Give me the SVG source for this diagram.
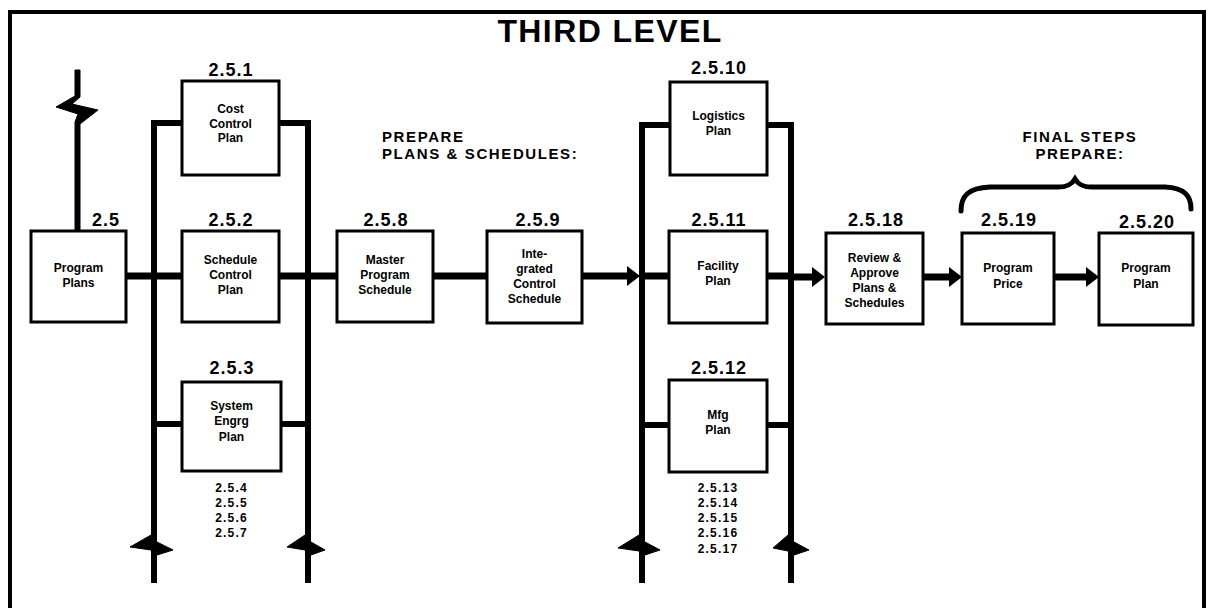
<svg xmlns="http://www.w3.org/2000/svg" width="1208" height="608" viewBox="0 0 1208 608">
<defs>
<style>
.frame{fill:none;stroke:#000;stroke-width:4}
.box{fill:#fff;stroke:#000;stroke-width:3}
.bus{fill:none;stroke:#000;stroke-width:6;stroke-linejoin:miter;stroke-miterlimit:12}
.h{fill:none;stroke:#000;stroke-width:7}
.bolt{fill:#000;stroke:#000;stroke-width:1;stroke-linejoin:miter}
.brace{fill:none;stroke:#000;stroke-width:5;stroke-linecap:round}
text{font-family:"Liberation Sans",Arial,Helvetica,sans-serif;font-weight:bold;fill:#000;text-anchor:middle}
.title{font-size:32px;letter-spacing:1.4px}
.id{font-size:18px;letter-spacing:1px}
.t{font-size:12px}
.sub{font-size:12px;letter-spacing:1.2px}
.head{font-size:15px;letter-spacing:1.6px}
</style>
<marker id="ah" markerUnits="userSpaceOnUse" markerWidth="14" markerHeight="22" viewBox="0 -11 14 22" refX="0" refY="0" orient="auto">
<path d="M0,-10 L13,0 L0,10 z" fill="#000"/>
</marker>
</defs>
<rect width="1208" height="608" fill="#fff"/>
<path class="frame" d="M10,608 V12 H1204 V608"/>
<text class="title" x="610" y="42">THIRD LEVEL</text>
<text class="head" x="382" y="142" style="text-anchor:start">PREPARE</text>
<text class="head" x="382" y="159" style="text-anchor:start">PLANS &amp; SCHEDULES:</text>
<text class="head" x="1080" y="142">FINAL STEPS</text>
<text class="head" x="1080" y="159">PREPARE:</text>
<g id="connectors">
<path class="bolt" d="M75,70 L80,70 L80,97 L72,104 L98,110 L80,124 L80,231 L75,231 L75,122 L78,114 L56,107 L75,96 z"/>
<path class="h" d="M126,276 H487"/>
<path class="h" d="M582,276 H627" marker-end="url(#ah)"/>
<path class="h" d="M642,276 H791"/>
<path class="h" d="M791,277 H812" marker-end="url(#ah)"/>
<path class="h" d="M923,277 H949" marker-end="url(#ah)"/>
<path class="h" d="M1054,277 H1086" marker-end="url(#ah)"/>
<path class="bus" d="M182,123 H154 V583"/>
<path class="bus" d="M279,123 H308 V583"/>
<path class="bus" d="M670,125 H642 V583"/>
<path class="bus" d="M767,125 H791 V583"/>
<path class="bolt" d="M151,535 L130,547 L151,550 z M157,542 L173,550 L157,555 z"/>
<path class="bolt" d="M305,535 L287,547 L305,550 z M311,542 L325,550 L311,555 z"/>
<path class="bolt" d="M639,535 L618,548 L639,551 z M645,542 L660,550 L645,555 z"/>
<path class="bolt" d="M788,535 L773,548 L788,551 z M794,542 L809,550 L794,555 z"/>
<path class="bus" d="M154,424 H182 M281,424 H308 M642,425 H669 M767,425 H791"/>
<path class="brace" d="M961,211 C961,196 968,188 990,187 L1058,187 C1068,187 1072,184 1075,179 C1078,184 1082,187 1092,187 L1165,187 C1185,188 1191,196 1191,209"/>
</g>
<g id="n2_5">
<rect class="box" x="31" y="231" width="95" height="91"/>
<text class="id" x="106" y="226">2.5</text>
<text class="t" x="78.5" y="271.5">Program</text>
<text class="t" x="78.5" y="287">Plans</text>
</g>
<g id="n2_5_1">
<rect class="box" x="182" y="81" width="97" height="94"/>
<text class="id" x="231" y="76">2.5.1</text>
<text class="t" x="230.5" y="113">Cost</text>
<text class="t" x="230.5" y="127.5">Control</text>
<text class="t" x="230.5" y="142">Plan</text>
</g>
<g id="n2_5_2">
<rect class="box" x="182" y="231" width="97" height="91"/>
<text class="id" x="231" y="226">2.5.2</text>
<text class="t" x="230.5" y="264">Schedule</text>
<text class="t" x="230.5" y="279">Control</text>
<text class="t" x="230.5" y="294">Plan</text>
</g>
<g id="n2_5_3">
<rect class="box" x="182" y="382" width="99" height="89"/>
<text class="id" x="232" y="374">2.5.3</text>
<text class="t" x="231.5" y="410">System</text>
<text class="t" x="231.5" y="425">Engrg</text>
<text class="t" x="231.5" y="441">Plan</text>
<text class="sub" x="231.5" y="492">2.5.4</text>
<text class="sub" x="231.5" y="507">2.5.5</text>
<text class="sub" x="231.5" y="522">2.5.6</text>
<text class="sub" x="231.5" y="537">2.5.7</text>
</g>
<g id="n2_5_8">
<rect class="box" x="337" y="231" width="96" height="91"/>
<text class="id" x="386" y="226">2.5.8</text>
<text class="t" x="385" y="264">Master</text>
<text class="t" x="385" y="279">Program</text>
<text class="t" x="385" y="294">Schedule</text>
</g>
<g id="n2_5_9">
<rect class="box" x="487" y="231" width="95" height="92"/>
<text class="id" x="538" y="226">2.5.9</text>
<text class="t" x="534.5" y="258">Inte-</text>
<text class="t" x="534.5" y="273">grated</text>
<text class="t" x="534.5" y="288">Control</text>
<text class="t" x="534.5" y="303">Schedule</text>
</g>
<g id="n2_5_10">
<rect class="box" x="670" y="82" width="97" height="93"/>
<text class="id" x="719" y="74">2.5.10</text>
<text class="t" x="718.5" y="120">Logistics</text>
<text class="t" x="718.5" y="135">Plan</text>
</g>
<g id="n2_5_11">
<rect class="box" x="669" y="231" width="98" height="92"/>
<text class="id" x="719" y="226">2.5.11</text>
<text class="t" x="718" y="270">Facility</text>
<text class="t" x="718" y="285">Plan</text>
</g>
<g id="n2_5_12">
<rect class="box" x="669" y="380" width="98" height="92"/>
<text class="id" x="719" y="374">2.5.12</text>
<text class="t" x="718" y="419">Mfg</text>
<text class="t" x="718" y="434">Plan</text>
<text class="sub" x="718" y="492">2.5.13</text>
<text class="sub" x="718" y="507">2.5.14</text>
<text class="sub" x="718" y="522">2.5.15</text>
<text class="sub" x="718" y="537">2.5.16</text>
<text class="sub" x="718" y="553">2.5.17</text>
</g>
<g id="n2_5_18">
<rect class="box" x="826" y="233" width="97" height="91"/>
<text class="id" x="876" y="226">2.5.18</text>
<text class="t" x="874.5" y="262">Review &amp;</text>
<text class="t" x="874.5" y="277">Approve</text>
<text class="t" x="874.5" y="292">Plans &amp;</text>
<text class="t" x="874.5" y="307">Schedules</text>
</g>
<g id="n2_5_19">
<rect class="box" x="962" y="233" width="92" height="91"/>
<text class="id" x="1009" y="226">2.5.19</text>
<text class="t" x="1008" y="272">Program</text>
<text class="t" x="1008" y="288">Price</text>
</g>
<g id="n2_5_20">
<rect class="box" x="1099" y="233" width="94" height="92"/>
<text class="id" x="1147" y="228">2.5.20</text>
<text class="t" x="1146" y="272">Program</text>
<text class="t" x="1146" y="288">Plan</text>
</g>
</svg>
